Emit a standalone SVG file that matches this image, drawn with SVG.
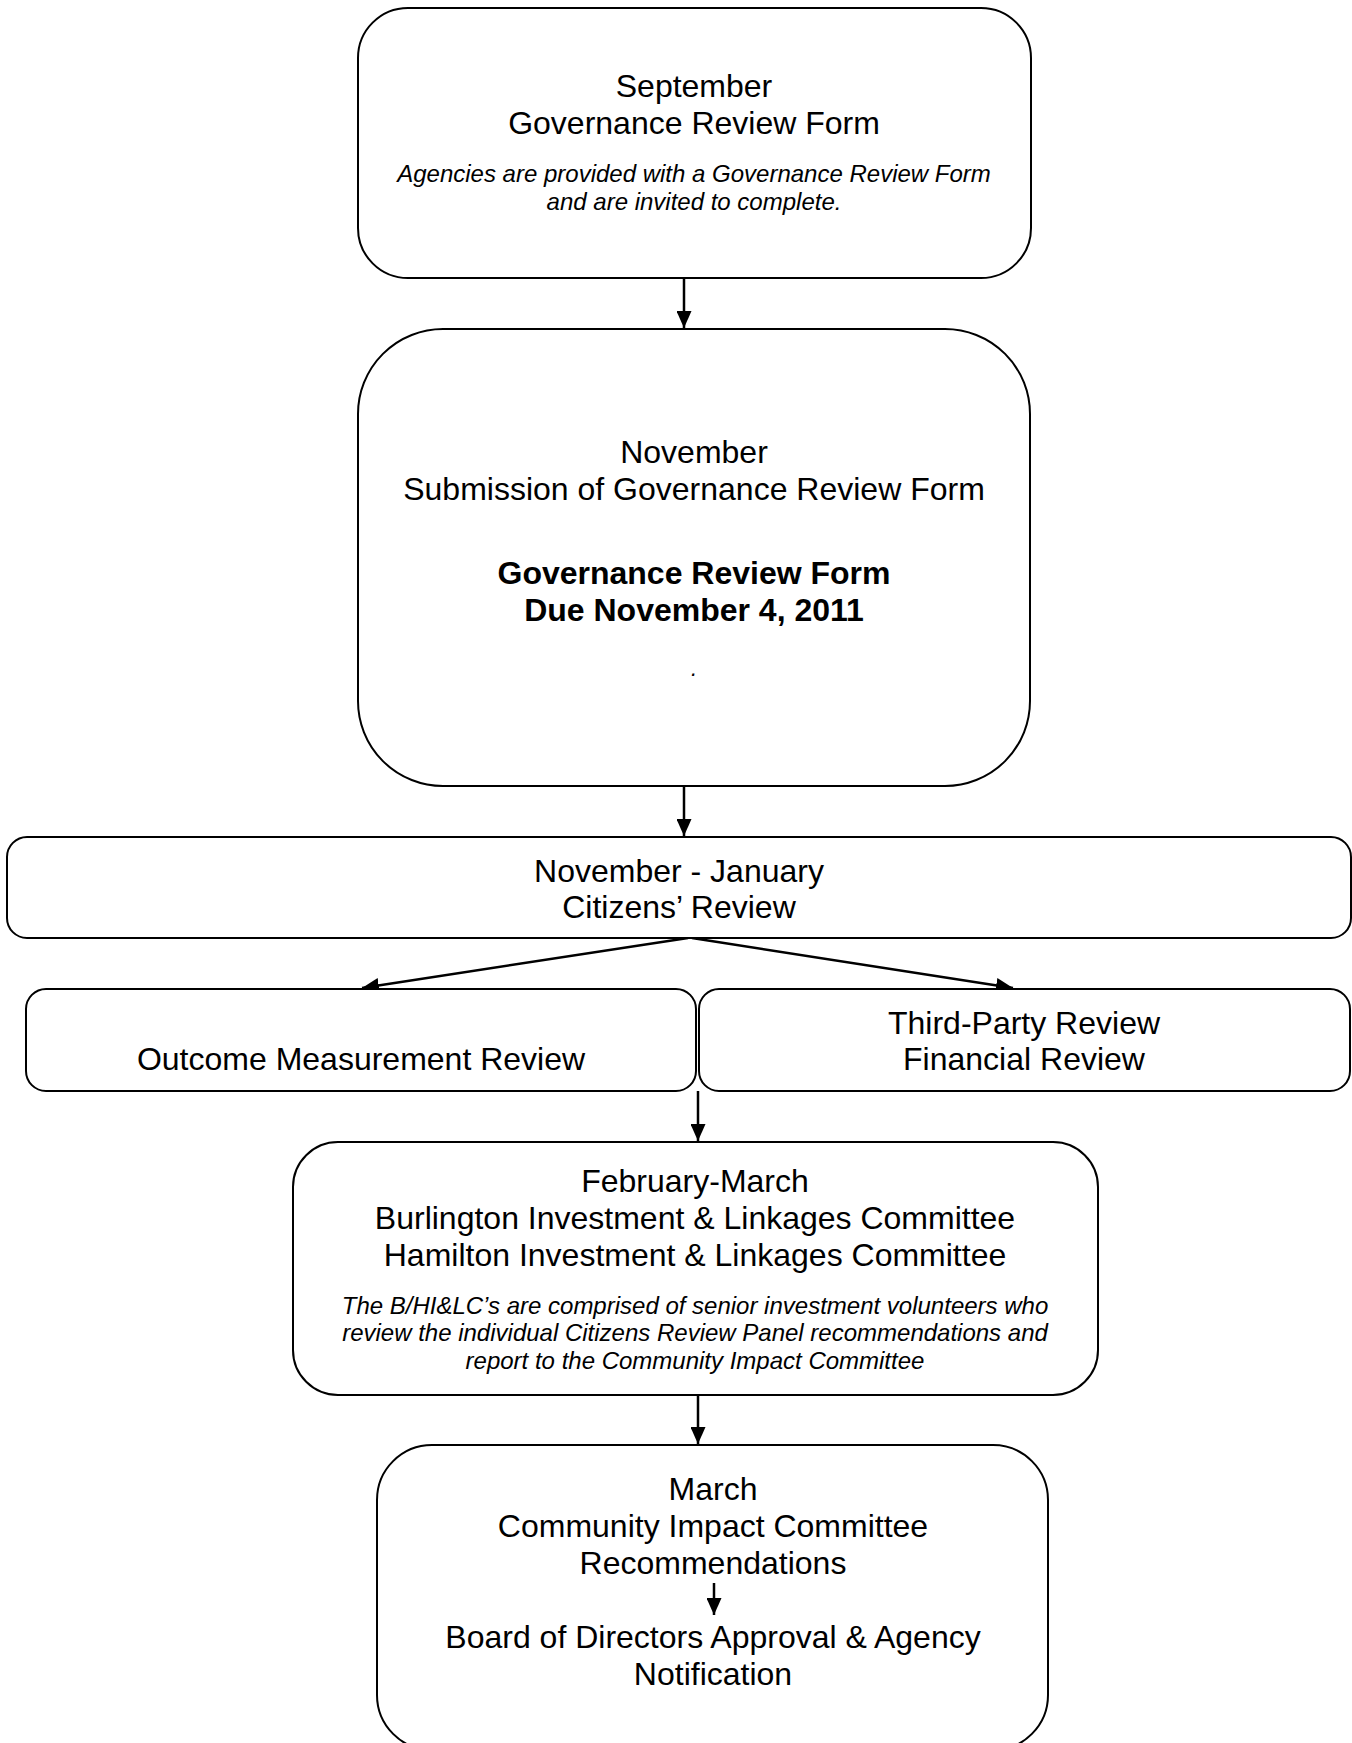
<svg xmlns="http://www.w3.org/2000/svg" width="1352" height="1743" viewBox="0 0 1352 1743">
<style>
.box{fill:#fff;stroke:#000;stroke-width:2}
.t{font-family:"Liberation Sans",Arial,sans-serif;font-size:32px;fill:#000;text-anchor:middle}
.b{font-weight:bold}
.i{font-style:italic;font-size:24px}
.c{stroke:#000;stroke-width:2.5;fill:none;marker-end:url(#ah)}
</style>
<defs>
<marker id="ah" viewBox="0 0 17 15" refX="17" refY="7.5" markerWidth="17" markerHeight="15" markerUnits="userSpaceOnUse" orient="auto">
<path d="M0,0 L17,7.5 L0,15 z" fill="#000"/>
</marker>
</defs>
<rect width="1352" height="1743" fill="#fff"/>
<g id="connectors">
<line class="c" x1="684" y1="278" x2="684" y2="328"/>
<line class="c" x1="684" y1="786" x2="684" y2="836"/>
<line class="c" x1="688" y1="938" x2="362" y2="988"/>
<line class="c" x1="692" y1="938" x2="1013" y2="988"/>
<line class="c" x1="698" y1="1091" x2="698" y2="1141"/>
<line class="c" x1="698" y1="1395" x2="698" y2="1444"/>
</g>
<g id="n1">
<rect class="box" x="358" y="8" width="673" height="270" rx="50"/>
<text class="t" x="694" y="97">September</text>
<text class="t" x="694" y="134">Governance Review Form</text>
<text class="t i" x="694" y="182">Agencies are provided with a Governance Review Form</text>
<text class="t i" x="694" y="210">and are invited to complete.</text>
</g>
<g id="n2">
<rect class="box" x="358" y="329" width="672" height="457" rx="85"/>
<text class="t" x="694" y="463">November</text>
<text class="t" x="694" y="500">Submission of Governance Review Form</text>
<text class="t b" x="694" y="584">Governance Review Form</text>
<text class="t b" x="694" y="621">Due November 4, 2011</text>
<text class="t i" x="694" y="676" style="font-size:22px">.</text>
</g>
<g id="n3">
<rect class="box" x="7" y="837" width="1344" height="101" rx="20"/>
<text class="t" x="679" y="882">November - January</text>
<text class="t" x="679" y="918">Citizens’ Review</text>
</g>
<g id="n4a">
<rect class="box" x="26" y="989" width="670" height="102" rx="20"/>
<text class="t" x="361" y="1070">Outcome Measurement Review</text>
</g>
<g id="n4b">
<rect class="box" x="699" y="989" width="651" height="102" rx="20"/>
<text class="t" x="1024" y="1034">Third-Party Review</text>
<text class="t" x="1024" y="1070">Financial Review</text>
</g>
<g id="n5">
<rect class="box" x="293" y="1142" width="805" height="253" rx="45"/>
<text class="t" x="695" y="1192">February-March</text>
<text class="t" x="695" y="1229">Burlington Investment &amp; Linkages Committee</text>
<text class="t" x="695" y="1266">Hamilton Investment &amp; Linkages Committee</text>
<text class="t i" x="695" y="1314">The B/HI&amp;LC’s are comprised of senior investment volunteers who</text>
<text class="t i" x="695" y="1341">review the individual Citizens Review Panel recommendations and</text>
<text class="t i" x="695" y="1369">report to the Community Impact Committee</text>
</g>
<g id="n6">
<rect class="box" x="377" y="1445" width="671" height="305" rx="55"/>
<text class="t" x="713" y="1500">March</text>
<text class="t" x="713" y="1537">Community Impact Committee</text>
<text class="t" x="713" y="1574">Recommendations</text>
<line class="c" x1="714" y1="1583" x2="714" y2="1615"/>
<text class="t" x="713" y="1648">Board of Directors Approval &amp; Agency</text>
<text class="t" x="713" y="1685">Notification</text>
</g>
</svg>
